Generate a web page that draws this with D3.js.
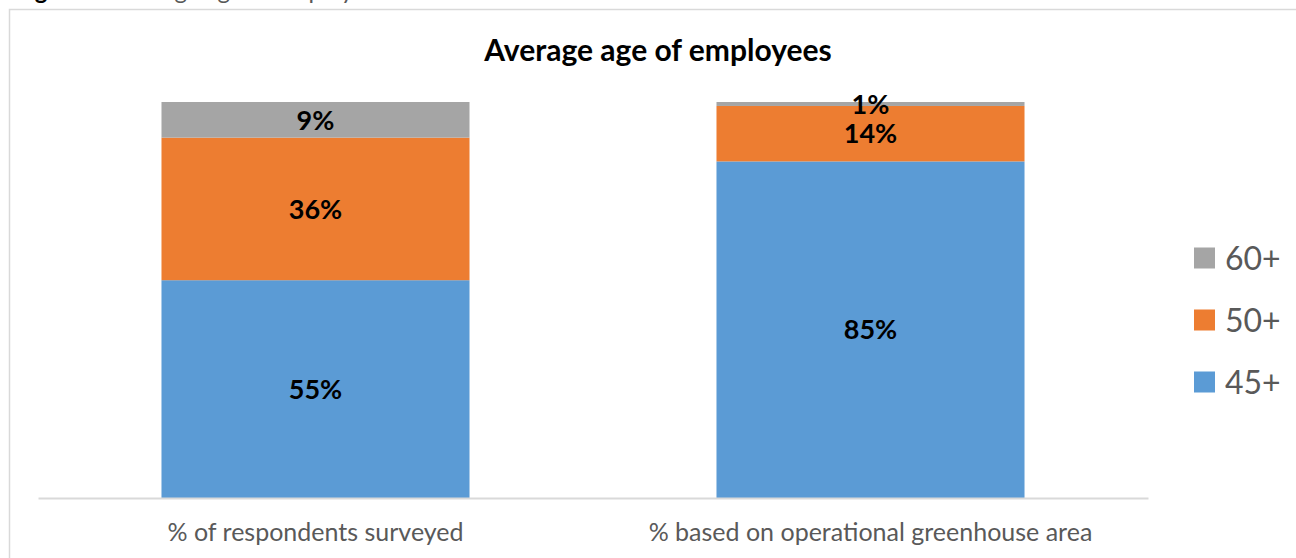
<!DOCTYPE html>
<html>
<head>
<meta charset="utf-8">
<script src="https://cdn.jsdelivr.net/npm/d3@7"></script>
<style>
    body { margin: 0; background: #fff; }
    text { font-family: Lato, "Open Sans", sans-serif; }
</style>
</head>
<body>
<div id="viz"></div>
<script>
const width = 1296;
const height = 558;

// data
const categories = ["% of respondents surveyed", "% based on operational greenhouse area"];
const seriesNames = ["45+", "50+", "60+"];
const values45 = [55, 85];
const values50 = [36, 14];
const values60 = [9, 1];
const colors = ["#5b9bd5", "#ed7d31", "#a5a5a5"];

const svg = d3.select("#viz")
    .append("svg")
    .attr("width", width)
    .attr("height", height);

// chart frame (runs off the right and bottom edge)
svg.append("rect")
    .attr("x", 9.5)
    .attr("y", 9.5)
    .attr("width", 1300)
    .attr("height", 560)
    .attr("fill", "none")
    .attr("stroke", "#d9d9d9")
    .attr("stroke-width", 1.5);

// caption above the frame, cut by the top edge like in the source
const cap = svg.append("text")
    .attr("x", 15)
    .attr("y", -1)
    .attr("font-size", 24);
cap.append("tspan").attr("font-weight", "bold").attr("fill", "#000").text("Figure 8: ");
cap.append("tspan").attr("fill", "#595959").text("Average age of employees");

const margin = {top: 102, left: 38, right: 148, bottom: 60};
const innerWidth = width - margin.left - margin.right;
const innerHeight = height - margin.top - margin.bottom;

const table = categories.map((c, i) => ({
    cat: c,
    "45+": values45[i],
    "50+": values50[i],
    "60+": values60[i]
}));
const stacked = d3.stack().keys(seriesNames)(table);

const xScale = d3.scaleBand()
    .domain(categories)
    .range([0, innerWidth])
    .paddingInner(0.445)
    .paddingOuter(0.2225);

const yScale = d3.scaleLinear()
    .domain([0, 100])
    .range([innerHeight, 0]);

const color = d3.scaleOrdinal().domain(seriesNames).range(colors);

const g = svg.append("g")
    .attr("transform", `translate(${margin.left}, ${margin.top})`);

const layers = g.selectAll("g.layer").data(stacked)
    .enter().append("g")
        .attr("class", "layer")
        .attr("fill", d => color(d.key));

layers.selectAll("rect").data(d => d)
    .enter().append("rect")
        .attr("x", d => xScale(d.data.cat))
        .attr("y", d => yScale(d[1]))
        .attr("width", xScale.bandwidth())
        .attr("height", d => yScale(d[0]) - yScale(d[1]));

layers.selectAll("text").data(d => d.map(v => ({v, key: d.key})))
    .enter().append("text")
        .attr("x", d => xScale(d.v.data.cat) + xScale.bandwidth() / 2)
        .attr("y", d => (yScale(d.v[0]) + yScale(d.v[1])) / 2)
        .attr("dy", "0.36em")
        .attr("text-anchor", "middle")
        .attr("font-size", 27)
        .attr("font-weight", "bold")
        .attr("fill", "#000")
        .text(d => d.v.data[d.key] + "%");

// x axis
const xAxis = d3.axisBottom(xScale).tickSize(0).tickPadding(25);
const xAxisG = g.append("g")
    .attr("transform", `translate(0, ${innerHeight})`)
    .call(xAxis);
xAxisG.select(".domain")
    .attr("stroke", "#d9d9d9")
    .attr("stroke-width", 2);
xAxisG.selectAll("text")
    .attr("font-size", 25)
    .attr("fill", "#595959")
    .style("font-family", "Lato, 'Open Sans', sans-serif");

// title
svg.append("text")
    .attr("x", 658)
    .attr("y", 61)
    .attr("text-anchor", "middle")
    .attr("font-size", 30)
    .attr("font-weight", "bold")
    .attr("fill", "#000")
    .text("Average age of employees");

// legend
const legend = svg.append("g")
    .attr("transform", "translate(1194, 258)");
const legendItems = legend.selectAll("g")
    .data(seriesNames.slice().reverse())
    .enter().append("g")
        .attr("transform", (d, i) => `translate(0, ${i * 62})`);
legendItems.append("rect")
    .attr("x", 0)
    .attr("y", -10.5)
    .attr("width", 21)
    .attr("height", 21)
    .attr("fill", d => color(d));
legendItems.append("text")
    .attr("x", 31)
    .attr("y", 0)
    .attr("dy", "0.36em")
    .attr("font-size", 32)
    .attr("fill", "#595959")
    .text(d => d);
</script>
</body>
</html>
